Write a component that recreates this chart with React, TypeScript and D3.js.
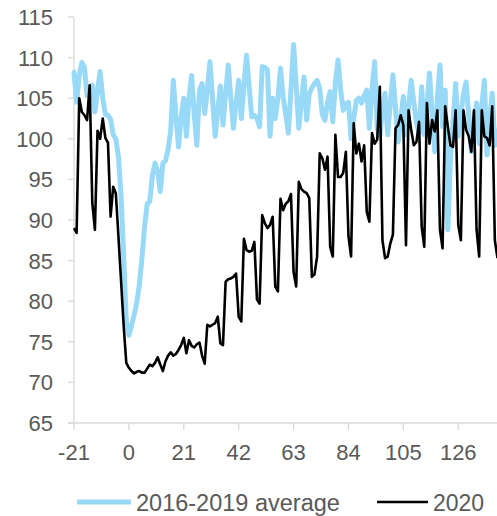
import React from "react";
import * as d3 from "d3";

const FIRST_DAY = -21;

const avg2016_2019 = [
  108.2, 104.5, 107.8, 109.4, 108.8, 105.3, 105.8, 106.6, 103.3, 106.0,
  108.3, 105.0, 103.0, 102.9, 102.4, 100.5, 100.0, 97.8, 93.0, 85.5,
  77.5, 75.8, 77.0, 78.3, 79.8, 82.0, 85.3, 89.2, 92.0, 92.3,
  95.5, 97.0, 96.0, 93.5, 97.0, 97.3, 98.7, 101.0, 107.2, 102.7,
  99.0, 102.7, 105.0, 100.3, 105.0, 107.8, 103.0, 99.2, 106.0, 106.8,
  103.1, 106.0, 109.5, 105.0, 100.3, 103.5, 106.5, 101.7, 105.5, 109.1,
  105.0, 101.3, 104.5, 107.2, 102.5, 106.5, 110.3, 106.5, 102.7, 102.9,
  102.5, 101.5, 108.9, 108.8, 108.5, 100.3, 105.0, 102.5, 105.0, 108.7,
  105.2, 103.0, 100.7, 106.0, 111.6, 106.5, 101.3, 104.5, 107.6, 102.3,
  105.5, 106.3, 106.8, 107.2, 106.2, 103.0, 102.3, 104.5, 105.8, 102.1,
  107.0, 109.7, 106.0, 103.5, 104.3, 104.5, 100.0, 102.5, 104.7, 105.0,
  104.4, 105.3, 106.0, 101.3, 106.0, 109.5, 101.3, 100.4, 103.5, 105.6,
  100.5, 104.3, 107.9, 103.7, 99.6, 102.5, 105.2, 100.5, 104.0, 107.2,
  104.5, 102.0, 100.7, 106.4, 100.5, 104.0, 108.1, 103.0, 98.4, 105.0,
  109.1, 101.5, 106.0, 88.8, 97.5, 102.0, 106.8, 100.3, 103.0, 105.5,
  107.0, 103.0, 98.4, 102.0, 104.4, 99.4, 104.0, 107.2, 98.0, 102.5,
  105.6, 99.2, 101.0,
];

const year2020 = [
  89.0, 88.4, 105.0, 103.3, 102.9, 102.3, 106.6, 92.1, 88.8, 101.0,
  100.0, 102.5, 100.1, 99.5, 90.4, 94.1, 93.3, 88.0, 82.5, 77.0,
  72.4, 71.8, 71.4, 71.1, 71.3, 71.4, 71.2, 71.2, 71.7, 72.2,
  72.0, 72.4, 73.1, 72.2, 71.4, 72.6, 73.3, 73.7, 73.3, 73.5,
  74.0, 74.6, 75.5, 73.6, 75.2, 74.5, 74.3, 74.7, 74.9, 73.3,
  72.3, 77.1, 76.9, 77.1, 77.3, 78.1, 74.8, 74.6, 82.4, 82.7,
  82.8, 83.0, 83.4, 78.1, 77.5, 87.7, 86.3, 86.1, 86.2, 87.3,
  80.2, 79.7, 90.6, 89.6, 89.0, 89.4, 90.4, 81.8, 81.2, 92.6,
  91.2, 92.0, 92.3, 93.2, 83.6, 81.8, 94.7, 93.8, 93.5, 93.3,
  92.7, 83.0, 83.3, 85.5, 98.2, 97.6, 96.2, 97.8, 86.7, 85.5,
  100.5, 95.3, 95.3, 95.8, 98.4, 88.0, 85.5, 101.9, 98.2, 99.4,
  97.2, 99.2, 91.0, 89.8, 100.7, 99.4, 99.9, 106.4, 87.5, 85.3,
  85.5, 87.1, 88.2, 101.3, 101.7, 102.9, 101.7, 86.9, 103.5, 101.1,
  99.2, 99.6, 102.1, 89.2, 86.7, 104.4, 99.4, 102.3, 100.9, 103.5,
  88.8, 86.5, 104.0, 101.5, 99.2, 99.0, 103.5, 89.4, 87.5, 103.5,
  101.1, 100.3, 98.4, 103.5, 88.8, 85.5, 103.5, 100.3, 100.1, 99.2,
  104.0, 87.5, 85.3,
];

const xTicks = [-21, 0, 21, 42, 63, 84, 105, 126];
const yTicks = [65, 70, 75, 80, 85, 90, 95, 100, 105, 110, 115];
const seriesNames = ["2016-2019 average", "2020"];

const W = 497;
const H = 516;
const FONT = "'Liberation Sans', Arial, sans-serif";
const TEXT = "#595959";
const AXIS = "#d9d9d9";
const BLUE = "#98D9F8";

export default function App() {
  const lastDay = FIRST_DAY + year2020.length - 1;
  const x = d3.scaleLinear().domain([FIRST_DAY, lastDay]).range([74, 74 + (lastDay - FIRST_DAY) * 2.614]);
  const y = d3.scaleLinear().domain([65, 115]).range([423, 17]);

  const line = d3
    .line<number>()
    .x((_, i) => x(FIRST_DAY + i))
    .y((d) => y(d));

  return (
    <svg
      width={W}
      height={H}
      style={{ position: "absolute", left: 0, top: 0, background: "#fff" }}
      fontFamily={FONT}
    >
      {/* y axis */}
      <line x1={x(FIRST_DAY)} x2={x(FIRST_DAY)} y1={y(115)} y2={y(65)} stroke={AXIS} strokeWidth={1.3} />
      {yTicks.map((t) => (
        <g key={t}>
          <line x1={68} x2={74} y1={y(t)} y2={y(t)} stroke={AXIS} strokeWidth={1.3} />
          <text x={53} y={y(t)} dy="0.36em" textAnchor="end" fontSize={22} fill={TEXT}>
            {t}
          </text>
        </g>
      ))}
      {/* x axis */}
      <line x1={68} x2={W} y1={y(65)} y2={y(65)} stroke={AXIS} strokeWidth={1.3} />
      {xTicks.map((t) => (
        <g key={t}>
          <line x1={x(t)} x2={x(t)} y1={y(65)} y2={y(65) + 7} stroke={AXIS} strokeWidth={1.3} />
          <text x={x(t)} y={460} textAnchor="middle" fontSize={22} fill={TEXT}>
            {t}
          </text>
        </g>
      ))}
      {/* series */}
      <path d={line(avg2016_2019) || ""} fill="none" stroke={BLUE} strokeWidth={5} strokeLinejoin="round" strokeLinecap="round" />
      <path d={line(year2020) || ""} fill="none" stroke="#000" strokeWidth={2.6} strokeLinejoin="round" />
      {/* legend */}
      <line x1={77} x2={131} y1={502} y2={502} stroke={BLUE} strokeWidth={5} />
      <text x={136} y={511} fontSize={23.5} fill={TEXT}>
        {seriesNames[0]}
      </text>
      <line x1={377} x2={428} y1={502} y2={502} stroke="#000" strokeWidth={2.6} />
      <text x={433} y={511} fontSize={23} fill={TEXT}>
        {seriesNames[1]}
      </text>
    </svg>
  );
}
